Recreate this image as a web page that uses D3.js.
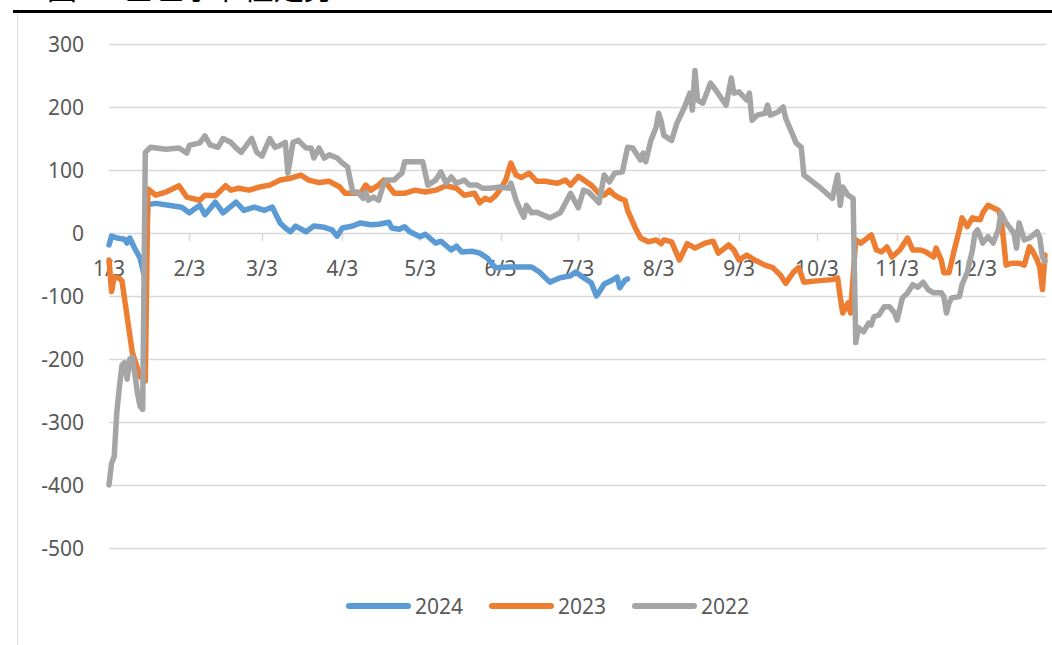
<!DOCTYPE html>
<html>
<head>
<meta charset="utf-8">
<script src="https://cdn.jsdelivr.net/npm/d3@7/dist/d3.min.js"></script>
<style>
  body { margin: 0; background: #fff; }
  svg { display: block; }
</style>
</head>
<body>
<div id="chart"></div>
<script>
// series: [day/month label, value]
let s2024 = [
  ['1/3', -19], ['1/4', -5], ['1/6', -8], ['1/9', -10], ['1/10', -16], ['1/11', -8], ['1/13', -25],
  ['1/15', -40], ['1/17', -75], ['1/18', 45], ['1/21', 47], ['1/26', 44], ['1/31', 41], ['2/3', 32],
  ['2/7', 44], ['2/9', 29], ['2/13', 49], ['2/16', 32], ['2/21', 49], ['2/24', 36], ['2/28', 41],
  ['3/4', 36], ['3/7', 41], ['3/10', 16], ['3/12', 8], ['3/14', 2], ['3/16', 11], ['3/20', 2],
  ['3/23', 11], ['3/27', 9], ['3/30', 5], ['4/1', -5], ['4/3', 8], ['4/7', 11], ['4/10', 16],
  ['4/14', 13], ['4/17', 14], ['4/21', 17], ['4/22', 8], ['4/25', 6], ['4/27', 10], ['4/29', 2],
  ['5/3', -6], ['5/5', -2], ['5/9', -16], ['5/11', -13], ['5/15', -27], ['5/17', -21], ['5/19', -30],
  ['5/23', -29], ['5/26', -32], ['5/29', -40], ['6/1', -55], ['6/6', -54], ['6/15', -54], ['6/18', -62],
  ['6/22', -78], ['6/26', -71], ['6/30', -68], ['7/2', -62], ['7/4', -68], ['7/8', -79], ['7/10', -100],
  ['7/11', -94], ['7/13', -81], ['7/16', -75], ['7/18', -70], ['7/19', -87], ['7/21', -75], ['7/22', -73]
]

let s2023 = [
  ['1/3', -43], ['1/4', -93], ['1/5', -70], ['1/7', -72], ['1/8', -76], ['1/12', -190], ['1/15', -228],
  ['1/17', -235], ['1/18', 70], ['1/21', 60], ['1/25', 65], ['1/30', 75], ['2/2', 57], ['2/7', 52],
  ['2/9', 60], ['2/13', 59], ['2/17', 75], ['2/19', 68], ['2/22', 71], ['2/26', 68], ['3/2', 73],
  ['3/6', 76], ['3/10', 84], ['3/14', 87], ['3/18', 92], ['3/21', 84], ['3/25', 80], ['3/29', 82],
  ['4/2', 73], ['4/4', 63], ['4/10', 63], ['4/12', 76], ['4/14', 68], ['4/17', 76], ['4/19', 84],
  ['4/23', 63], ['4/27', 63], ['5/1', 68], ['5/5', 65], ['5/9', 68], ['5/13', 75], ['5/17', 71],
  ['5/20', 60], ['5/24', 63], ['5/26', 48], ['5/28', 55], ['5/30', 52], ['6/1', 59], ['6/3', 70],
  ['6/5', 84], ['6/7', 111], ['6/9', 92], ['6/11', 88], ['6/14', 95], ['6/17', 82], ['6/20', 82],
  ['6/25', 79], ['6/28', 84], ['6/30', 76], ['7/3', 90], ['7/8', 76], ['7/11', 63], ['7/13', 60],
  ['7/15', 68], ['7/17', 60], ['7/19', 55], ['7/21', 52], ['7/22', 36], ['7/25', 8], ['7/27', -8],
  ['7/30', -14], ['8/2', -11], ['8/4', -17], ['8/5', -11], ['8/8', -14], ['8/11', -43], ['8/14', -17],
  ['8/17', -24], ['8/21', -16], ['8/24', -13], ['8/26', -32], ['8/30', -19], ['9/1', -27], ['9/3', -43],
  ['9/6', -35], ['9/9', -43], ['9/13', -51], ['9/16', -55], ['9/19', -67], ['9/21', -80], ['9/24', -62],
  ['9/26', -55], ['9/28', -78], ['10/3', -76], ['10/9', -74], ['10/11', -71], ['10/12', -101],
  ['10/13', -127], ['10/15', -111], ['10/16', -127], ['10/18', -11], ['10/20', -16], ['10/24', -3],
  ['10/26', -27], ['10/28', -30], ['10/30', -22], ['11/1', -38], ['11/4', -27], ['11/7', -8],
  ['11/9', -27], ['11/12', -27], ['11/14', -30], ['11/17', -38], ['11/18', -24], ['11/20', -43],
  ['11/21', -63], ['11/23', -63], ['11/25', -27], ['11/27', 5], ['11/28', 24], ['11/30', 10],
  ['12/2', 24], ['12/5', 21], ['12/6', 32], ['12/8', 44], ['12/12', 36], ['12/13', 25], ['12/14', -11],
  ['12/15', -51], ['12/17', -48], ['12/20', -48], ['12/22', -51], ['12/24', -22], ['12/25', -27],
  ['12/27', -43], ['12/28', -55], ['12/29', -90], ['12/30', -35]
]

let s2022 = [
  ['1/3', -400], ['1/4', -365], ['1/5', -355], ['1/6', -285], ['1/7', -245], ['1/8', -210], ['1/9', -206],
  ['1/10', -232], ['1/11', -200], ['1/12', -197], ['1/13', -225], ['1/14', -255], ['1/15', -275],
  ['1/16', -280], ['1/17', 128], ['1/19', 136], ['1/25', 133], ['1/30', 135], ['2/2', 127], ['2/3', 139],
  ['2/7', 143], ['2/9', 154], ['2/11', 140], ['2/14', 136], ['2/16', 150], ['2/19', 144], ['2/21', 135],
  ['2/23', 128], ['2/25', 139], ['2/27', 150], ['3/1', 128], ['3/3', 122], ['3/6', 150], ['3/8', 136],
  ['3/10', 139], ['3/12', 144], ['3/13', 95], ['3/15', 144], ['3/17', 147], ['3/20', 135], ['3/22', 135],
  ['3/23', 119], ['3/25', 135], ['3/27', 119], ['3/29', 124], ['4/1', 119], ['4/3', 111], ['4/5', 105],
  ['4/7', 65], ['4/9', 65], ['4/11', 55], ['4/12', 65], ['4/13', 52], ['4/15', 57], ['4/17', 52],
  ['4/19', 79], ['4/20', 84], ['4/23', 84], ['4/25', 92], ['4/26', 95], ['4/27', 113], ['5/4', 113],
  ['5/6', 76], ['5/9', 84], ['5/11', 97], ['5/13', 79], ['5/15', 89], ['5/17', 79], ['5/20', 84],
  ['5/22', 76], ['5/25', 76], ['5/27', 71], ['5/30', 71], ['6/3', 73], ['6/6', 71], ['6/7', 79],
  ['6/9', 52], ['6/11', 33], ['6/12', 25], ['6/13', 44], ['6/15', 32], ['6/17', 33], ['6/22', 24],
  ['6/26', 32], ['6/29', 55], ['6/30', 63], ['7/3', 40], ['7/5', 68], ['7/7', 65], ['7/11', 48],
  ['7/13', 92], ['7/15', 81], ['7/17', 95], ['7/20', 97], ['7/22', 136], ['7/24', 135], ['7/27', 116],
  ['7/28', 127], ['7/29', 113], ['7/31', 147], ['8/2', 168], ['8/3', 190], ['8/4', 176], ['8/5', 155],
  ['8/8', 147], ['8/10', 174], ['8/13', 200], ['8/15', 222], ['8/16', 195], ['8/17', 258], ['8/18', 211],
  ['8/20', 206], ['8/23', 238], ['8/25', 227], ['8/29', 203], ['8/31', 246], ['9/1', 222], ['9/3', 224],
  ['9/6', 211], ['9/7', 222], ['9/8', 179], ['9/10', 187], ['9/13', 190], ['9/14', 203], ['9/15', 187],
  ['9/18', 192], ['9/20', 200], ['9/21', 182], ['9/23', 163], ['9/25', 143], ['9/27', 136], ['9/28', 92],
  ['10/4', 73], ['10/9', 55], ['10/11', 92], ['10/12', 44], ['10/13', 73], ['10/15', 60], ['10/17', 55],
  ['10/18', -174], ['10/19', -150], ['10/21', -157], ['10/23', -143], ['10/24', -146], ['10/25', -133],
  ['10/27', -130], ['10/29', -117], ['10/31', -117], ['11/2', -127], ['11/3', -138], ['11/5', -103],
  ['11/7', -95], ['11/9', -82], ['11/11', -86], ['11/13', -78], ['11/15', -90], ['11/17', -95],
  ['11/20', -95], ['11/21', -101], ['11/22', -127], ['11/23', -111], ['11/24', -103], ['11/27', -101],
  ['11/28', -82], ['11/30', -63], ['12/2', -27], ['12/3', 0], ['12/4', 5], ['12/6', -16], ['12/8', -6],
  ['12/10', -16], ['12/12', 5], ['12/13', 32], ['12/15', 16], ['12/18', 0], ['12/19', -24], ['12/20', 16],
  ['12/22', -11], ['12/24', -8], ['12/27', 2], ['12/28', -8], ['12/29', -38], ['12/30', -45]
]

let seriesNames = ['2024', '2023', '2022']
let seriesColors = ['#5b9bd5', '#ed7d31', '#a5a5a5']
let yTicks = [300, 200, 100, 0, -100, -200, -300, -400, -500]
let xTickLabels = ['1/3', '2/3', '3/3', '4/3', '5/3', '6/3', '7/3', '8/3', '9/3', '10/3', '11/3', '12/3']
let title = '图4：基差季节性走势'

let width = 1052
let height = 645
let font = '"Noto Sans", "Open Sans", sans-serif'

// every year is put on one common calendar year
let parseDay = s => {
  let [m, d] = s.split('/').map(Number)
  return new Date(2023, m - 1, d)
}

let svg = d3
  .select('#chart')
  .append('svg')
  .attr('width', width)
  .attr('height', height)

let x = d3
  .scaleTime()
  .domain([parseDay('1/3'), parseDay('12/30')])
  .range([109, 1045])

let y = d3
  .scaleLinear()
  .domain([-500, 300])
  .range([548, 44])

// title (cut off at the top in the original), rule under it
svg
  .append('text')
  .text(title)
  .attr('x', 47)
  .attr('y', -1)
  .attr('font-family', '"Noto Sans CJK SC", sans-serif')
  .attr('font-size', 30)
  .attr('fill', '#000')

svg
  .append('rect')
  .attr('x', 13)
  .attr('y', 10)
  .attr('width', width - 13)
  .attr('height', 3)
  .attr('fill', '#000')

// chart border on the left
svg
  .append('line')
  .attr('x1', 17.5)
  .attr('x2', 17.5)
  .attr('y1', 13)
  .attr('y2', height)
  .attr('stroke', '#d9d9d9')
  .attr('stroke-width', 1)

// gridlines
svg
  .selectAll('.grid')
  .data(yTicks)
  .enter()
  .append('line')
  .attr('class', 'grid')
  .attr('x1', 109)
  .attr('x2', 1046)
  .attr('y1', d => Math.round(y(d)) + 0.5)
  .attr('y2', d => Math.round(y(d)) + 0.5)
  .attr('stroke', '#d9d9d9')
  .attr('stroke-width', 1.5)

// y labels
svg
  .selectAll('.y-label')
  .data(yTicks)
  .enter()
  .append('text')
  .attr('class', 'y-label')
  .text(d => d)
  .attr('x', 84)
  .attr('y', d => y(d))
  .attr('dy', '0.36em')
  .attr('text-anchor', 'end')
  .attr('font-family', font)
  .attr('font-size', 21)
  .attr('fill', '#595959')

// x axis sits on zero, ticks on the 3rd of each month
let monthTicks = xTickLabels.map(parseDay)

svg
  .selectAll('.x-tick')
  .data(monthTicks)
  .enter()
  .append('line')
  .attr('class', 'x-tick')
  .attr('x1', d => Math.round(x(d)) + 0.5)
  .attr('x2', d => Math.round(x(d)) + 0.5)
  .attr('y1', y(0))
  .attr('y2', y(0) + 8)
  .attr('stroke', '#d9d9d9')
  .attr('stroke-width', 1.5)

svg
  .selectAll('.x-label')
  .data(xTickLabels)
  .enter()
  .append('text')
  .attr('class', 'x-label')
  .text(d => d)
  .attr('x', d => x(parseDay(d)))
  .attr('y', y(0) + 43)
  .attr('text-anchor', 'middle')
  .attr('font-family', font)
  .attr('font-size', 21)
  .attr('fill', '#595959')

// lines, 2024 first so 2022 lands on top
let line = d3
  .line()
  .x(d => x(parseDay(d[0])))
  .y(d => y(d[1]))

svg
  .selectAll('.series')
  .data([s2024, s2023, s2022])
  .enter()
  .append('path')
  .attr('class', 'series')
  .attr('d', line)
  .attr('fill', 'none')
  .attr('stroke', (d, i) => seriesColors[i])
  .attr('stroke-width', 5.5)
  .attr('stroke-linejoin', 'round')
  .attr('stroke-linecap', 'round')

// legend
let legendX = [347, 490, 633]

let legend = svg
  .selectAll('.legend')
  .data(seriesNames)
  .enter()
  .append('g')
  .attr('class', 'legend')
  .attr('transform', (d, i) => `translate(${legendX[i]},606)`)

legend
  .append('line')
  .attr('x1', 2)
  .attr('x2', 61)
  .attr('stroke', (d, i) => seriesColors[i])
  .attr('stroke-width', 6)
  .attr('stroke-linecap', 'round')

legend
  .append('text')
  .text(d => d)
  .attr('x', 68)
  .attr('dy', '0.36em')
  .attr('font-family', font)
  .attr('font-size', 21)
  .attr('fill', '#595959')
</script>
</body>
</html>
